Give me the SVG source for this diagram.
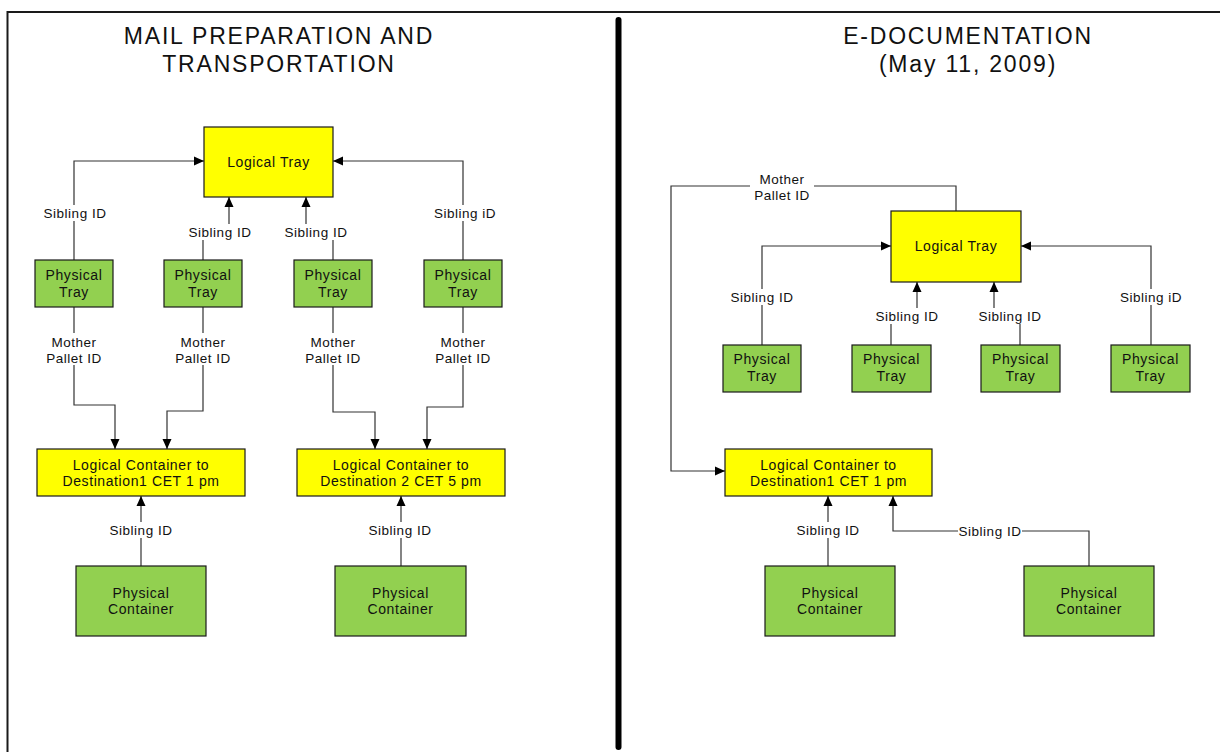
<svg xmlns="http://www.w3.org/2000/svg" width="1220" height="752" viewBox="0 0 1220 752">
  <defs>
    <marker id="arrow" viewBox="0 0 10 10" refX="10" refY="5" markerWidth="10" markerHeight="10" markerUnits="userSpaceOnUse" orient="auto">
      <path d="M0,0.5 L10,5 L0,9.5 Z" fill="#000"/>
    </marker>
    <style>
      .frame { fill: none; stroke: #1a1a1a; stroke-width: 2; }
      .divider { stroke: #000; stroke-width: 6; stroke-linecap: round; }
      .title { font-family: "Liberation Sans", Arial, sans-serif; font-size: 23px; fill: #111; text-anchor: middle; letter-spacing: 1.8px; }
      .logical { fill: #ffff00; stroke: #1a1a1a; stroke-width: 1.2; }
      .physical { fill: #92d050; stroke: #1a1a1a; stroke-width: 1.2; }
      .node-text { font-family: "Liberation Sans", Arial, sans-serif; font-size: 14px; fill: #111; text-anchor: middle; letter-spacing: 0.6px; }
      .edge { fill: none; stroke: #333; stroke-width: 1.2; }
      .arrowed { marker-end: url(#arrow); }
      .label-bg { fill: #fff; }
      .label { font-family: "Liberation Sans", Arial, sans-serif; font-size: 13.5px; fill: #111; text-anchor: middle; letter-spacing: 0.5px; }
    </style>
  </defs>

  <rect x="0" y="0" width="1220" height="752" fill="#fff"/>
  <!-- page frame and divider -->
  <rect class="frame" x="7.5" y="12" width="1220" height="760"/>
  <line class="divider" x1="618.5" y1="20" x2="618.5" y2="747"/>

  <!-- titles -->
  <g id="title-left">
    <text class="title" x="279" y="44">MAIL PREPARATION AND</text>
    <text class="title" x="279" y="72">TRANSPORTATION</text>
  </g>
  <g id="title-right">
    <text class="title" x="968" y="44">E-DOCUMENTATION</text>
    <text class="title" x="968" y="72">(May 11, 2009)</text>
  </g>

  <!-- connectors -->
  <g id="connectors">
    <!-- left panel: trays to logical tray -->
    <path class="edge arrowed" d="M74,260 V161 H204"/>
    <path class="edge arrowed" d="M203,260 V232 H229 V197"/>
    <path class="edge arrowed" d="M333,260 V232 H306 V197"/>
    <path class="edge arrowed" d="M463,260 V161 H333"/>
    <!-- left panel: trays to logical containers -->
    <path class="edge arrowed" d="M74,307 V405 H115 V449"/>
    <path class="edge arrowed" d="M203,307 V411 H167 V449"/>
    <path class="edge arrowed" d="M333,307 V412 H375 V449"/>
    <path class="edge arrowed" d="M463,307 V407 H427 V449"/>
    <!-- left panel: physical containers -->
    <path class="edge arrowed" d="M141,566 V496"/>
    <path class="edge arrowed" d="M401,566 V496"/>

    <!-- right panel -->
    <path class="edge arrowed" d="M956,211 V186 H671 V471 H725"/>
    <path class="edge arrowed" d="M762,345 V246 H891"/>
    <path class="edge arrowed" d="M891,345 V316 H917 V282"/>
    <path class="edge arrowed" d="M1020,345 V316 H994 V282"/>
    <path class="edge arrowed" d="M1151,345 V246 H1021"/>
    <path class="edge arrowed" d="M828,566 V496"/>
    <path class="edge arrowed" d="M1089,566 V531 H893 V496"/>

    <!-- connector labels -->
    <g id="edge-labels">
      <rect class="label-bg" x="42" y="205" width="66" height="16"/>
      <text class="label" x="75" y="218">Sibling ID</text>
      <rect class="label-bg" x="186" y="224" width="66" height="16"/>
      <text class="label" x="220" y="237">Sibling ID</text>
      <rect class="label-bg" x="283" y="224" width="66" height="16"/>
      <text class="label" x="316" y="237">Sibling ID</text>
      <rect class="label-bg" x="432" y="205" width="66" height="16"/>
      <text class="label" x="465" y="218">Sibling iD</text>

      <rect class="label-bg" x="42" y="333" width="64" height="32"/>
      <text class="label" x="74" y="347">Mother</text>
      <text class="label" x="74" y="363">Pallet ID</text>
      <rect class="label-bg" x="171" y="333" width="64" height="32"/>
      <text class="label" x="203" y="347">Mother</text>
      <text class="label" x="203" y="363">Pallet ID</text>
      <rect class="label-bg" x="301" y="333" width="64" height="32"/>
      <text class="label" x="333" y="347">Mother</text>
      <text class="label" x="333" y="363">Pallet ID</text>
      <rect class="label-bg" x="431" y="333" width="64" height="32"/>
      <text class="label" x="463" y="347">Mother</text>
      <text class="label" x="463" y="363">Pallet ID</text>

      <rect class="label-bg" x="107" y="522" width="68" height="16"/>
      <text class="label" x="141" y="535">Sibling ID</text>
      <rect class="label-bg" x="366" y="522" width="68" height="16"/>
      <text class="label" x="400" y="535">Sibling ID</text>

      <rect class="label-bg" x="750" y="171" width="64" height="32"/>
      <text class="label" x="782" y="184">Mother</text>
      <text class="label" x="782" y="200">Pallet ID</text>
      <rect class="label-bg" x="728" y="289" width="68" height="16"/>
      <text class="label" x="762" y="302">Sibling ID</text>
      <rect class="label-bg" x="873" y="308" width="68" height="16"/>
      <text class="label" x="907" y="321">Sibling ID</text>
      <rect class="label-bg" x="976" y="308" width="68" height="16"/>
      <text class="label" x="1010" y="321">Sibling ID</text>
      <rect class="label-bg" x="1117" y="289" width="68" height="16"/>
      <text class="label" x="1151" y="302">Sibling iD</text>
      <rect class="label-bg" x="794" y="522" width="68" height="16"/>
      <text class="label" x="828" y="535">Sibling ID</text>
      <rect class="label-bg" x="958" y="523" width="64" height="16"/>
      <text class="label" x="990" y="536">Sibling ID</text>
    </g>
  </g>

  <!-- left panel nodes -->
  <g id="logical-tray-left">
    <rect class="logical" x="204" y="127" width="129" height="70"/>
    <text class="node-text" x="268.5" y="167">Logical Tray</text>
  </g>
  <g id="physical-tray-l1">
    <rect class="physical" x="35" y="260" width="78" height="47"/>
    <text class="node-text" x="74" y="280">Physical</text>
    <text class="node-text" x="74" y="297">Tray</text>
  </g>
  <g id="physical-tray-l2">
    <rect class="physical" x="164" y="260" width="78" height="47"/>
    <text class="node-text" x="203" y="280">Physical</text>
    <text class="node-text" x="203" y="297">Tray</text>
  </g>
  <g id="physical-tray-l3">
    <rect class="physical" x="294" y="260" width="78" height="47"/>
    <text class="node-text" x="333" y="280">Physical</text>
    <text class="node-text" x="333" y="297">Tray</text>
  </g>
  <g id="physical-tray-l4">
    <rect class="physical" x="424" y="260" width="78" height="47"/>
    <text class="node-text" x="463" y="280">Physical</text>
    <text class="node-text" x="463" y="297">Tray</text>
  </g>
  <g id="logical-container-l1">
    <rect class="logical" x="37" y="449" width="208" height="47"/>
    <text class="node-text" x="141" y="470">Logical Container to</text>
    <text class="node-text" x="141" y="486">Destination1 CET 1 pm</text>
  </g>
  <g id="logical-container-l2">
    <rect class="logical" x="297" y="449" width="208" height="47"/>
    <text class="node-text" x="401" y="470">Logical Container to</text>
    <text class="node-text" x="401" y="486">Destination 2 CET 5 pm</text>
  </g>
  <g id="physical-container-l1">
    <rect class="physical" x="76" y="566" width="130" height="70"/>
    <text class="node-text" x="141" y="598">Physical</text>
    <text class="node-text" x="141" y="614">Container</text>
  </g>
  <g id="physical-container-l2">
    <rect class="physical" x="335" y="566" width="131" height="70"/>
    <text class="node-text" x="400.5" y="598">Physical</text>
    <text class="node-text" x="400.5" y="614">Container</text>
  </g>

  <!-- right panel nodes -->
  <g id="logical-tray-right">
    <rect class="logical" x="891" y="211" width="130" height="71"/>
    <text class="node-text" x="956" y="251">Logical Tray</text>
  </g>
  <g id="physical-tray-r1">
    <rect class="physical" x="723" y="345" width="78" height="47"/>
    <text class="node-text" x="762" y="364">Physical</text>
    <text class="node-text" x="762" y="381">Tray</text>
  </g>
  <g id="physical-tray-r2">
    <rect class="physical" x="852" y="345" width="79" height="47"/>
    <text class="node-text" x="891.5" y="364">Physical</text>
    <text class="node-text" x="891.5" y="381">Tray</text>
  </g>
  <g id="physical-tray-r3">
    <rect class="physical" x="981" y="345" width="79" height="47"/>
    <text class="node-text" x="1020.5" y="364">Physical</text>
    <text class="node-text" x="1020.5" y="381">Tray</text>
  </g>
  <g id="physical-tray-r4">
    <rect class="physical" x="1111" y="345" width="79" height="47"/>
    <text class="node-text" x="1150.5" y="364">Physical</text>
    <text class="node-text" x="1150.5" y="381">Tray</text>
  </g>
  <g id="logical-container-r1">
    <rect class="logical" x="725" y="449" width="207" height="47"/>
    <text class="node-text" x="828.5" y="470">Logical Container to</text>
    <text class="node-text" x="828.5" y="486">Destination1 CET 1 pm</text>
  </g>
  <g id="physical-container-r1">
    <rect class="physical" x="765" y="566" width="130" height="70"/>
    <text class="node-text" x="830" y="598">Physical</text>
    <text class="node-text" x="830" y="614">Container</text>
  </g>
  <g id="physical-container-r2">
    <rect class="physical" x="1024" y="566" width="130" height="70"/>
    <text class="node-text" x="1089" y="598">Physical</text>
    <text class="node-text" x="1089" y="614">Container</text>
  </g>
</svg>
